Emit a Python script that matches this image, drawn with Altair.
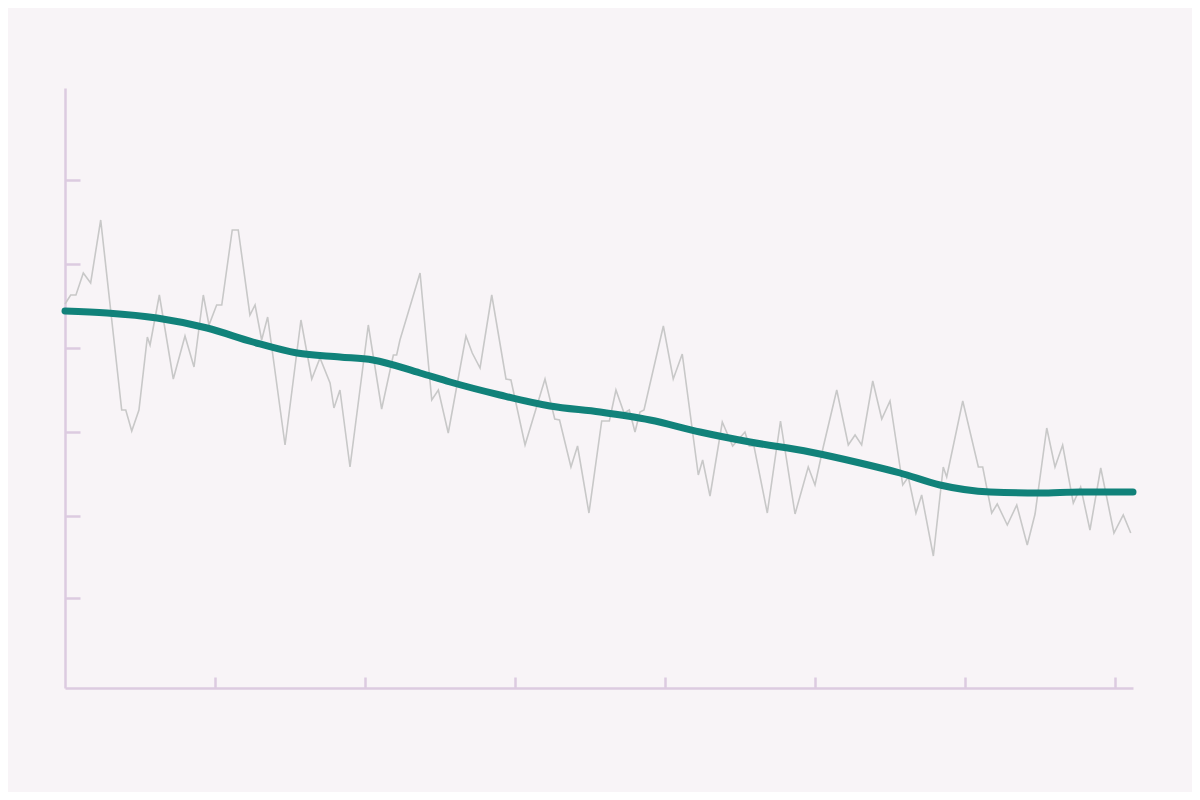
import altair as alt
import pandas as pd

# Raw noisy series (x in time units, y in value units)
raw_x = [0.0, 0.38, 0.73, 1.22, 1.71, 2.38, 3.78, 4.05, 4.45, 4.93, 5.49, 5.67, 6.29, 7.22, 8.0, 8.6,
         9.22, 9.6, 10.11, 10.45, 11.15, 11.55, 12.33, 12.67, 13.11, 13.51, 14.67, 15.73, 16.45, 17.0,
         17.67, 17.93, 18.33, 19.0, 20.22, 21.11, 21.89, 22.11, 22.33, 23.67, 24.45, 24.89, 25.55,
         26.73, 27.15, 27.67, 28.45, 29.4, 29.73, 30.67, 32.0, 32.65, 32.97, 33.73, 34.17, 34.93,
         35.78, 36.29, 36.73, 37.27, 37.62, 38.0, 38.33, 38.6, 39.89, 40.55, 41.15, 42.22, 42.51,
         43.0, 43.82, 44.51, 45.33, 45.62, 45.93, 46.82, 47.7, 48.67, 49.55, 50.0, 50.55, 51.45,
         52.22, 52.67, 53.11, 53.85, 54.45, 55.0, 55.85, 56.22, 56.73, 57.11, 57.89, 58.55, 58.78,
         59.85, 60.89, 61.18, 61.78, 62.15, 62.82, 63.45, 64.15, 64.67, 65.45, 66.0, 66.51, 67.22,
         67.71, 68.33, 69.05, 69.93, 70.55, 71.05]
raw_y = [38.4, 39.3, 39.3, 41.5, 40.5, 46.8, 27.8, 27.8, 25.7, 27.8, 35.1, 34.3, 39.3, 30.9, 35.2, 32.1,
         39.3, 36.3, 38.3, 38.3, 45.8, 45.8, 37.3, 38.3, 34.8, 37.1, 24.3, 36.8, 30.9, 33.0,
         30.5, 28.0, 29.8, 22.1, 36.3, 27.9, 33.3, 33.3, 34.8, 41.5, 28.8, 29.8, 25.5,
         35.2, 33.5, 32.0, 39.3, 30.9, 30.8, 24.3, 30.9, 26.9, 26.8, 22.1, 24.2, 17.5,
         26.7, 26.7, 29.8, 27.5, 27.8, 25.6, 27.6, 27.8, 36.2, 30.9, 33.4, 21.3, 22.8,
         19.2, 26.6, 24.2, 25.6, 24.2, 24.2, 17.5, 26.7, 17.4, 22.1, 20.3, 24.1, 29.8,
         24.3, 25.3, 24.3, 30.7, 26.9, 28.7, 20.3, 21.1, 17.5, 19.3, 13.2, 22.1, 21.1,
         28.7, 22.1, 22.1, 17.5, 18.4, 16.3, 18.3, 14.3, 17.4, 26.0, 22.1, 24.3, 18.5,
         20.1, 15.8, 22.0, 15.5, 17.3, 15.5]

# Smoothed trend
trend_x = [0.0, 2.8, 6.13, 9.47, 12.53, 15.47, 18.33, 20.53, 23.67, 25.67, 29.0, 32.33, 35.67,
           39.0, 42.33, 45.67, 49.67, 53.0, 55.67, 58.33, 61.67, 65.0, 67.67, 71.2]
trend_y = [37.7, 37.5, 37.0, 36.0, 34.6, 33.5, 33.1, 32.8, 31.5, 30.6, 29.3, 28.2, 27.6,
           26.8, 25.6, 24.6, 23.6, 22.5, 21.5, 20.3, 19.6, 19.5, 19.6, 19.6]

x_ticks = [10, 20, 30, 40, 50, 60, 70]
y_ticks = [9.0, 17.2, 25.6, 34.0, 42.4, 50.8]
x_domain = [0, 71.2]
y_domain = [0, 60]

raw = pd.DataFrame({"x": raw_x, "y": raw_y})
trend = pd.DataFrame({"x": trend_x, "y": trend_y})

AXIS_COLOR = "#dccbe0"

x_enc = alt.X("x:Q", scale=alt.Scale(domain=x_domain, nice=False, zero=False),
              axis=alt.Axis(orient="top", offset=-600, values=x_ticks, labels=False, title=None,
                            grid=False, tickSize=11, domainColor=AXIS_COLOR, tickColor=AXIS_COLOR,
                            domainWidth=2.5, tickWidth=2.5))
y_enc = alt.Y("y:Q", scale=alt.Scale(domain=y_domain, nice=False, zero=False),
              axis=alt.Axis(orient="right", offset=-1068, values=y_ticks, labels=False, title=None,
                            grid=False, tickSize=15, domainColor=AXIS_COLOR, tickColor=AXIS_COLOR,
                            domainWidth=2.5, tickWidth=2.5))

raw_line = alt.Chart(raw).mark_line(color="#c8c8c8", strokeWidth=1.6).encode(x=x_enc, y=y_enc)
trend_line = alt.Chart(trend).mark_line(color="#11827a", strokeWidth=7, strokeCap="round",
                                        interpolate="monotone").encode(x="x:Q", y="y:Q")

chart = alt.layer(raw_line, trend_line).properties(
    width=1068, height=600,
    autosize=alt.AutoSizeParams(type="none"),
    padding={"left": 57, "top": 80, "right": 59, "bottom": 104},
    background="#f8f4f7",
).configure_view(stroke=None)

chart.save("out.html", embed_options={"renderer": "svg", "actions": False})
